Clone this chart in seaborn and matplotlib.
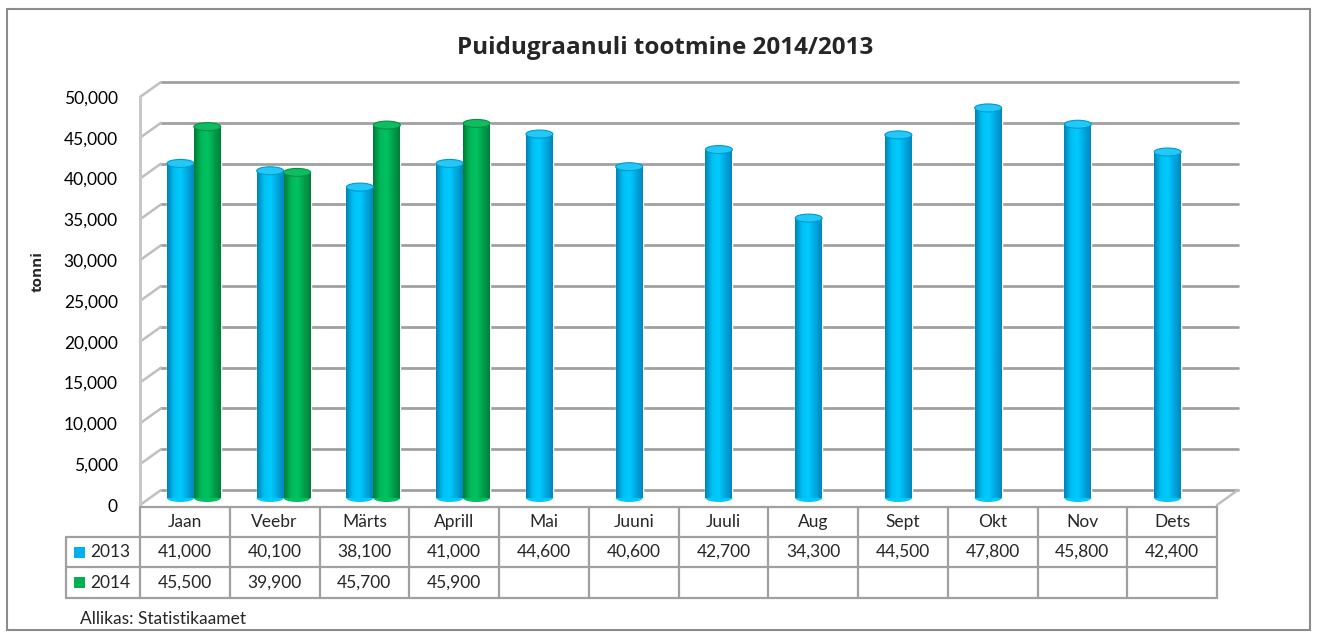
import numpy as np
import pandas as pd
import matplotlib
matplotlib.use('Agg')
import matplotlib.pyplot as plt
import seaborn as sns
from matplotlib.transforms import ScaledTranslation, blended_transform_factory
from matplotlib.colors import LinearSegmentedColormap
from matplotlib.patches import Ellipse, Rectangle

# andmed
months = ['Jaan', 'Veebr', 'Märts', 'Aprill', 'Mai', 'Juuni', 'Juuli', 'Aug', 'Sept', 'Okt', 'Nov', 'Dets']
years = ['2013', '2014']
v2013 = [41000, 40100, 38100, 41000, 44600, 40600, 42700, 34300, 44500, 47800, 45800, 42400]
v2014 = [45500, 39900, 45700, 45900]
colors = ['#00B0F0', '#00B050']
yticks = list(range(0, 50001, 5000))

df = pd.DataFrame({
    'kuu': months * 2,
    'aasta': ['2013'] * 12 + ['2014'] * 12,
    'tonni': v2013 + v2014 + [np.nan] * (12 - len(v2014)),
})

sns.set_theme(style='white')
plt.rcParams['font.family'] = ['Lato', 'DejaVu Sans']

W, H = 1317, 639
fig = plt.figure(figsize=(W / 100, H / 100), dpi=100)
ax = fig.add_axes([140 / W, 1 - 505 / H, 1077 / W, 408 / H])

sns.barplot(data=df, x='kuu', y='tonni', hue='aasta', order=months, hue_order=years,
            palette=colors, width=0.6, saturation=1, legend=False, ax=ax)

# 3D-laadne nihe
px_x = 1077 / 12          # px per kategooria
px_y = 408 / 50000        # px per tonn
dx, dy = 21 / px_x, 15 / px_y
grid_c = '#A0A0A0'

for y in yticks:
    ax.plot([-0.5 + dx, 11.5 + dx], [y + dy, y + dy], color=grid_c, lw=2, clip_on=False, zorder=1)
    ax.plot([-0.5, -0.5 + dx], [y, y + dy], color='#BFBFBF', lw=1.8, clip_on=False, zorder=1)
ax.plot([-0.5, -0.5], [0, 50000], color='#C8C8C8', lw=2.2, clip_on=False, zorder=1)
ax.plot([11.5, 11.5 + dx], [0, dy], color='#BFBFBF', lw=1.8, clip_on=False, zorder=1)

# silindrite varjutus
tr = ax.transData + ScaledTranslation(0.09, 0.07, fig.dpi_scale_trans)
cmaps = [
    LinearSegmentedColormap.from_list('b', ['#0082B4', '#00BEF2', '#00CCFF', '#00A8E0', '#0088BC']),
    LinearSegmentedColormap.from_list('g', ['#007A38', '#00B658', '#00C462', '#00A04C', '#007E3A']),
]
caps = ['#22C8F8', '#10BC60']
grad = np.linspace(0, 1, 64).reshape(1, -1)
cap_h = 8 / px_y
for cont, cm, capc in zip(ax.containers, cmaps, caps):
    for p in cont.patches:
        h = p.get_height()
        if np.isnan(h) or h == 0:
            continue
        x0, w = p.get_x(), p.get_width()
        p.set_transform(tr)
        p.set_zorder(2)
        ax.imshow(grad, extent=[x0, x0 + w, 0, h], aspect='auto', cmap=cm,
                  transform=tr, zorder=3, interpolation='bilinear')
        ax.add_patch(Ellipse((x0 + w / 2, h), w, cap_h, transform=tr,
                             facecolor=capc, edgecolor=cm(0.1), lw=0.8, zorder=4))
        ax.add_patch(Ellipse((x0 + w / 2, 0), w, cap_h, transform=tr,
                             facecolor=cm(0.45), edgecolor='none', zorder=2.5))

ax.set_xlim(-0.5, 11.5)
ax.set_ylim(0, 50000)
ax.set_yticks(yticks)
ax.set_yticklabels([f'{v:,}' for v in yticks], fontsize=12.5, color='black')
ax.tick_params(axis='y', length=0, pad=16)
ax.set_xticks([])
ax.set_xlabel('')
ax.set_ylabel('')
for s in ax.spines.values():
    s.set_visible(False)
ax.patch.set_alpha(0)

# andmetabel
bt = blended_transform_factory(ax.transData, fig.transFigure)
rows_px = [507, 537, 567, 598]
ry = [1 - r / H for r in rows_px]
x_lab = -0.5 - 74 / px_x
line_c = '#A0A0A0'
ax.plot([-0.5, 11.5], [ry[0], ry[0]], transform=bt, color=line_c, lw=1.6, clip_on=False)
for yy in ry[1:]:
    ax.plot([x_lab, 11.5], [yy, yy], transform=bt, color=line_c, lw=1.6, clip_on=False)
for i in range(13):
    ax.plot([i - 0.5, i - 0.5], [ry[0], ry[3]], transform=bt, color=line_c, lw=1.6, clip_on=False)
ax.plot([x_lab, x_lab], [ry[1], ry[3]], transform=bt, color=line_c, lw=1.6, clip_on=False)

for i, m in enumerate(months):
    ax.text(i, (ry[0] + ry[1]) / 2, m, transform=bt, ha='center', va='center', fontsize=12.5)
series = [v2013, v2014]
for r, (yr, vals, c) in enumerate(zip(years, series, colors)):
    ymid = (ry[r + 1] + ry[r + 2]) / 2
    ax.add_patch(Rectangle((x_lab + 8 / px_x, ymid - 5.5 / H), 11 / px_x, 11 / H,
                           transform=bt, facecolor=c, edgecolor='none', clip_on=False))
    ax.text(x_lab + 24 / px_x, ymid, yr, transform=bt, ha='left', va='center', fontsize=12.5)
    for i, v in enumerate(vals):
        ax.text(i, ymid, f'{v:,}', transform=bt, ha='center', va='center', fontsize=12.5)

fig.text(665 / W, 1 - 48 / H, 'Puidugraanuli tootmine 2014/2013', ha='center', va='center',
         fontsize=17.5, fontweight='bold', family=['Open Sans', 'DejaVu Sans'])
fig.text(38 / W, 1 - 272 / H, 'tonni', rotation=90, ha='center', va='center',
         fontsize=11, fontweight='bold', family=['Open Sans', 'DejaVu Sans'])
fig.text(80 / W, 1 - 619 / H, 'Allikas: Statistikaamet', ha='left', va='center', fontsize=12.5)

fig.patches.append(Rectangle((7 / W, 9 / H), 1303 / W, 621 / H, transform=fig.transFigure,
                             fill=False, edgecolor='#8C8C8C', lw=1.5))

fig.savefig('out.png', dpi=100)
